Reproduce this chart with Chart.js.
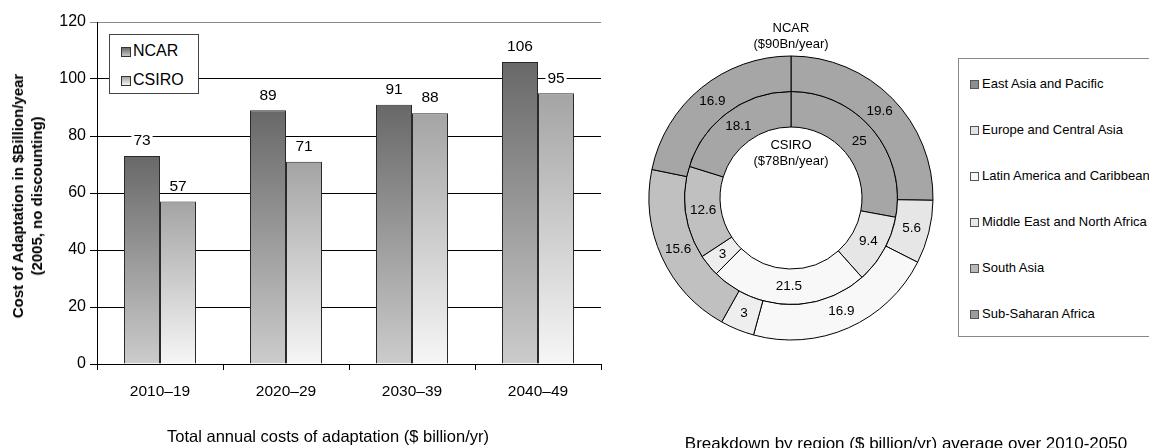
<!DOCTYPE html>
<html>
<head>
<meta charset="utf-8">
<script src="https://cdn.jsdelivr.net/npm/chart.js@4/dist/chart.umd.min.js"></script>
<style>
  html, body { margin: 0; padding: 0; background: #fff; }
  body { width: 1149px; height: 448px; position: relative; overflow: hidden; font-family: "Liberation Sans", Arial, sans-serif; color: #000; }
  .abs { position: absolute; }
  #barWrap { left: 0; top: 0; width: 620px; height: 448px; }
  #pieWrap { left: 641px; top: 47.5px; width: 300px; height: 300px; }
  .ytitle { font-weight: bold; font-size: 15px; white-space: nowrap; transform: translate(-50%, -50%) rotate(-90deg); text-align: center; line-height: 19px; }
  .lbox { left: 109px; top: 34px; width: 88px; height: 58px; border: 1px solid #444; background: #fff; font-size: 16px; }
  .lbox .it { position: absolute; left: 11px; height: 18px; line-height: 18px; white-space: nowrap; transform: translateY(-50%); }
  .sq { display: inline-block; width: 10px; height: 10px; border: 1px solid #333; box-sizing: border-box; vertical-align: -1px; margin-right: 2px; }
  .rbox { left: 958px; top: 58px; width: 220px; height: 277px; border: 1px solid #888; font-size: 13px; background: #fff; }
  .rbox .it { position: absolute; left: 11px; height: 16px; line-height: 16px; white-space: nowrap; transform: translateY(-50%); }
  .rbox .sq { width: 9px; height: 9px; border: 1px solid #555; margin-right: 3px; vertical-align: -1px; }
  .cap { white-space: nowrap; transform: translateX(-50%); line-height: 1.15; }
  .ptxt { font-size: 13px; text-align: center; line-height: 16px; transform: translateX(-50%); white-space: nowrap; }
</style>
</head>
<body>
<div id="barWrap" class="abs"><canvas id="bar"></canvas></div>
<div id="pieWrap" class="abs"><canvas id="pie"></canvas></div>

<div class="abs ytitle" style="left:27px; top:196px;">Cost of Adaptation in $Billion/year<br>(2005, no discounting)</div>
<div class="abs lbox">
  <div class="it" style="top:16px;"><span class="sq" style="background:linear-gradient(#6a6a6a,#c8c8c8);"></span>NCAR</div>
  <div class="it" style="top:45px;"><span class="sq" style="background:linear-gradient(#a6a6a6,#f4f4f4);"></span>CSIRO</div>
</div>
<div class="abs cap" style="left:328px; top:427px; font-size:16.5px;">Total annual costs of adaptation ($ billion/yr)</div>

<div class="abs ptxt" style="left:791px; top:20px;">NCAR<br>($90Bn/year)</div>
<div class="abs ptxt" style="left:791px; top:137px;">CSIRO<br>($78Bn/year)</div>
<div class="abs rbox" id="rlegend"></div>
<div class="abs cap" style="left:906px; top:434px; font-size:17px;">Breakdown by region ($ billion/yr) average over 2010-2050</div>

<script>
// ---- Data ----
const categories = ['2010\u201319', '2020\u201329', '2030\u201339', '2040\u201349'];
const ncarValues = [73, 89, 91, 106];
const csiroValues = [57, 71, 88, 95];
const yMax = 120;
const yStep = 20;

const regions = ['East Asia and Pacific', 'Europe and Central Asia', 'Latin America and Caribbean', 'Middle East and North Africa', 'South Asia', 'Sub-Saharan Africa'];
const ncarRegion = [19.6, 5.6, 16.9, 3, 15.6, 16.9];
const csiroRegion = [25, 9.4, 21.5, 3, 12.6, 18.1];
const regionColors = ['#a6a6a6', '#e6e6e6', '#f8f8f8', '#eeeeee', '#c0c0c0', '#a6a6a6'];
const regionLegendColors = ['#8e8e8e', '#e2e2e2', '#f8f8f8', '#e8e8e8', '#b8b8b8', '#9c9c9c'];

// ---- Right legend ----
const rl = document.getElementById('rlegend');
regions.forEach((r, i) => {
  const d = document.createElement('div');
  d.className = 'it';
  d.style.top = (25 + i * 46) + 'px';
  d.innerHTML = '<span class="sq" style="background:' + regionLegendColors[i] + '"></span>' + r;
  rl.appendChild(d);
});

Chart.defaults.font.family = '"Liberation Sans", Arial, sans-serif';
Chart.defaults.color = '#000';

function barGradient(topColor, bottomColor) {
  return function (ctx) {
    const chart = ctx.chart;
    const y = chart.scales && chart.scales.y;
    if (ctx.type !== 'data' || !y || y.top === undefined) return topColor;
    const top = y.getPixelForValue(ctx.raw);
    const base = y.getPixelForValue(0);
    if (!isFinite(top) || !isFinite(base) || base - top < 1) return topColor;
    const g = chart.ctx.createLinearGradient(0, top, 0, base);
    g.addColorStop(0, topColor);
    g.addColorStop(1, bottomColor);
    return g;
  };
}

const barLabels = {
  id: 'barLabels',
  afterDatasetsDraw(chart) {
    const c = chart.ctx;
    c.save();
    c.font = '15.5px "Liberation Sans", Arial, sans-serif';
    c.textAlign = 'center';
    c.textBaseline = 'middle';
    chart.data.datasets.forEach((ds, di) => {
      const meta = chart.getDatasetMeta(di);
      meta.data.forEach((bar, i) => {
        const txt = String(ds.data[i]);
        const w = c.measureText(txt).width;
        const x = bar.x, y = bar.y - 16;
        c.fillStyle = '#fff';
        c.fillRect(x - w / 2 - 2, y - 6, w + 4, 13);
        c.fillStyle = '#000';
        c.fillText(txt, x, y + 1);
      });
    });
    c.restore();
  }
};

new Chart(document.getElementById('bar'), {
  type: 'bar',
  data: {
    labels: categories,
    datasets: [
      { label: 'NCAR', data: ncarValues, backgroundColor: barGradient('#686868', '#cccccc'), borderColor: '#2a2a2a', borderWidth: 1, categoryPercentage: 0.5714, barPercentage: 1 },
      { label: 'CSIRO', data: csiroValues, backgroundColor: barGradient('#a4a4a4', '#f6f6f6'), borderColor: '#2a2a2a', borderWidth: 1, categoryPercentage: 0.5714, barPercentage: 1 }
    ]
  },
  options: {
    responsive: true,
    maintainAspectRatio: false,
    animation: false,
    layout: { padding: { left: 0, top: 22, right: 19, bottom: 0 } },
    plugins: { legend: { display: false }, tooltip: { enabled: false } },
    scales: {
      x: {
        grid: { display: true, drawOnChartArea: false, drawTicks: true, tickLength: 6, color: '#000', offset: true },
        border: { display: true, color: '#000', width: 1 },
        ticks: { font: { size: 15.5 }, padding: 12, color: '#000' },
        afterFit(s) { s.height = 84; }
      },
      y: {
        min: 0, max: yMax,
        ticks: { stepSize: yStep, font: { size: 16 }, padding: 4, color: '#000' },
        grid: { color: (c) => (c.tick && c.tick.value === yMax ? '#8a8a8a' : '#000'), tickLength: 7, lineWidth: 1 },
        border: { display: true, color: '#000', width: 1 },
        afterFit(s) { s.width = 97; }
      }
    }
  },
  plugins: [barLabels]
});

const pieLabels = {
  id: 'pieLabels',
  afterDatasetsDraw(chart) {
    const c = chart.ctx;
    c.save();
    c.font = '13.5px "Liberation Sans", Arial, sans-serif';
    c.textAlign = 'center';
    c.textBaseline = 'middle';
    c.fillStyle = '#000';
    chart.data.datasets.forEach((ds, di) => {
      const meta = chart.getDatasetMeta(di);
      meta.data.forEach((arc, i) => {
        const p = arc.tooltipPosition();
        c.fillText(String(ds.data[i]), p.x, p.y);
      });
    });
    c.restore();
  }
};

new Chart(document.getElementById('pie'), {
  type: 'doughnut',
  data: {
    labels: regions,
    datasets: [
      { label: 'NCAR', data: ncarRegion, backgroundColor: regionColors, borderColor: '#000', borderWidth: 1, hoverOffset: 0 },
      { label: 'CSIRO', data: csiroRegion, backgroundColor: regionColors, borderColor: '#000', borderWidth: 1, hoverOffset: 0 }
    ]
  },
  options: {
    responsive: true,
    maintainAspectRatio: false,
    animation: false,
    radius: 142,
    cutout: '50%',
    layout: { padding: 0 },
    plugins: { legend: { display: false }, tooltip: { enabled: false } }
  },
  plugins: [pieLabels]
});
</script>
</body>
</html>
